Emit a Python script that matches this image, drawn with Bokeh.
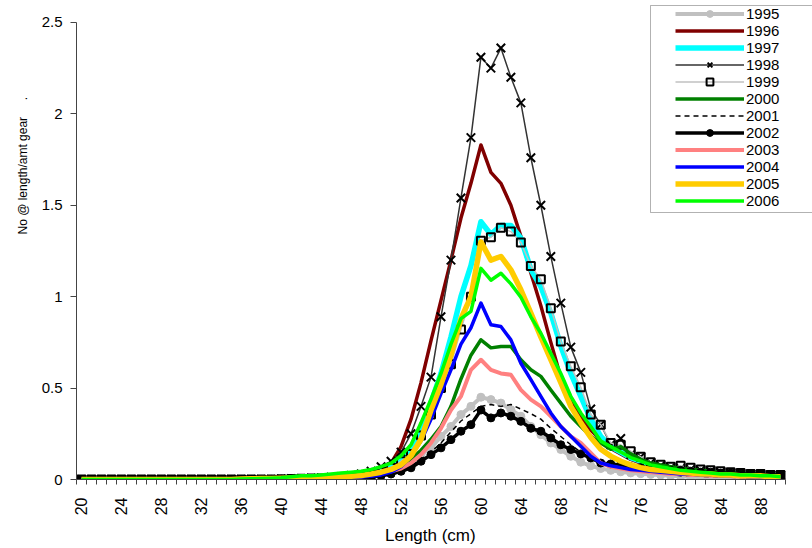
import math
from bokeh.plotting import figure
from bokeh.models import (Range1d, FixedTicker, CustomJSTickFormatter, Legend,
                          LegendItem, BoxAnnotation, Title)
from bokeh.embed import file_html
from bokeh.resources import INLINE

# ---------------- data ----------------
lengths = list(range(20, 91))
x_tick_labels = [20, 24, 28, 32, 36, 40, 44, 48, 52, 56, 60, 64, 68, 72, 76, 80, 84, 88]
y_ticks = [0, 0.5, 1, 1.5, 2, 2.5]
years = ["1995", "1996", "1997", "1998", "1999", "2000", "2001", "2002",
         "2003", "2004", "2005", "2006"]

y1995 = [0, 0, 0, 0, 0, 0, 0, 0, 0, 0,
         0, 0, 0, 0, 0, 0, 0, 0, 0, 0.002,
         0.003, 0.004, 0.005, 0.006, 0.007, 0.008, 0.010, 0.012, 0.015, 0.020,
         0.028, 0.040, 0.064, 0.090, 0.136, 0.173, 0.236, 0.290, 0.355, 0.400,
         0.450, 0.437, 0.418, 0.382, 0.346, 0.290, 0.245, 0.200, 0.164, 0.127,
         0.095, 0.075, 0.060, 0.050, 0.042, 0.036, 0.032, 0.028, 0.024, 0.020,
         0.018, 0.015, 0.013, 0.011, 0.010, 0.009, 0.008, 0.007, 0.006, 0.005, 0.005]
y1996 = [0, 0, 0, 0, 0, 0, 0, 0, 0, 0,
         0, 0, 0, 0, 0, 0, 0.001, 0.002, 0.002, 0.003,
         0.004, 0.005, 0.006, 0.008, 0.010, 0.013, 0.017, 0.022, 0.030, 0.040,
         0.055, 0.09, 0.18, 0.33, 0.53, 0.76, 0.98, 1.20, 1.43, 1.62,
         1.83, 1.68, 1.62, 1.50, 1.33, 1.13, 0.95, 0.75, 0.56, 0.44,
         0.345, 0.27, 0.218, 0.17, 0.14, 0.11, 0.09, 0.075, 0.065, 0.055,
         0.05, 0.045, 0.04, 0.035, 0.03, 0.03, 0.025, 0.02, 0.02, 0.02, 0.015]
y1997 = [0, 0, 0, 0, 0, 0, 0, 0, 0, 0,
         0, 0, 0, 0, 0, 0, 0.001, 0.002, 0.002, 0.003,
         0.004, 0.005, 0.006, 0.007, 0.009, 0.011, 0.014, 0.018, 0.024, 0.032,
         0.045, 0.07, 0.11, 0.17, 0.28, 0.42, 0.58, 0.78, 1.00, 1.17,
         1.41, 1.34, 1.39, 1.39, 1.32, 1.15, 1.055, 0.91, 0.73, 0.58,
         0.455, 0.33, 0.236, 0.18, 0.15, 0.12, 0.10, 0.08, 0.07, 0.06,
         0.06, 0.05, 0.045, 0.04, 0.035, 0.03, 0.03, 0.025, 0.02, 0.02, 0.02]
y1998 = [0, 0, 0, 0, 0, 0, 0, 0, 0, 0,
         0, 0, 0, 0, 0, 0, 0, 0, 0, 0,
         0.003, 0.004, 0.005, 0.007, 0.009, 0.012, 0.016, 0.022, 0.030, 0.045,
         0.07, 0.10, 0.15, 0.25, 0.40, 0.56, 0.89, 1.20, 1.54, 1.87,
         2.31, 2.25, 2.36, 2.20, 2.06, 1.76, 1.50, 1.22, 0.965, 0.724,
         0.586, 0.386, 0.30, 0.19, 0.224, 0.136, 0.124, 0.09, 0.075, 0.065,
         0.06, 0.055, 0.05, 0.045, 0.04, 0.035, 0.035, 0.03, 0.03, 0.025, 0.025]
y1999 = [0, 0, 0, 0, 0, 0, 0, 0, 0, 0,
         0, 0, 0, 0, 0, 0, 0, 0, 0, 0,
         0.002, 0.003, 0.004, 0.005, 0.006, 0.008, 0.010, 0.014, 0.020, 0.030,
         0.045, 0.065, 0.10, 0.14, 0.24, 0.355, 0.50, 0.63, 0.82, 1.00,
         1.306, 1.325, 1.377, 1.356, 1.297, 1.168, 1.095, 0.937, 0.755, 0.619,
         0.505, 0.355, 0.30, 0.20, 0.19, 0.155, 0.124, 0.094, 0.08, 0.07,
         0.075, 0.064, 0.055, 0.05, 0.045, 0.04, 0.035, 0.03, 0.03, 0.025, 0.025]
y2000 = [0, 0, 0, 0, 0, 0, 0, 0, 0, 0,
         0, 0, 0, 0, 0, 0, 0, 0, 0, 0,
         0.002, 0.003, 0.004, 0.005, 0.006, 0.007, 0.009, 0.012, 0.016, 0.022,
         0.032, 0.05, 0.075, 0.11, 0.16, 0.22, 0.29, 0.40, 0.55, 0.68,
         0.764, 0.72, 0.728, 0.728, 0.655, 0.60, 0.564, 0.49, 0.418, 0.346,
         0.29, 0.237, 0.20, 0.165, 0.18, 0.14, 0.11, 0.09, 0.08, 0.07,
         0.06, 0.055, 0.05, 0.045, 0.04, 0.035, 0.03, 0.03, 0.025, 0.025, 0.02]
y2001 = [0, 0, 0, 0, 0, 0, 0, 0, 0, 0,
         0, 0, 0, 0, 0, 0, 0, 0, 0, 0,
         0.002, 0.003, 0.004, 0.005, 0.006, 0.007, 0.009, 0.011, 0.014, 0.018,
         0.025, 0.035, 0.05, 0.075, 0.11, 0.15, 0.20, 0.26, 0.32, 0.36,
         0.40, 0.41, 0.40, 0.41, 0.385, 0.36, 0.33, 0.28, 0.235, 0.19,
         0.15, 0.12, 0.095, 0.075, 0.06, 0.05, 0.045, 0.04, 0.035, 0.03,
         0.02, 0.02, 0.018, 0.015, 0.013, 0.012, 0.01, 0.01, 0.009, 0.008, 0.008]
y2002 = [0, 0, 0, 0, 0, 0, 0, 0, 0, 0,
         0, 0, 0, 0, 0, 0, 0, 0, 0, 0,
         0.001, 0.002, 0.002, 0.003, 0.004, 0.005, 0.006, 0.008, 0.010, 0.014,
         0.02, 0.03, 0.045, 0.064, 0.10, 0.136, 0.173, 0.218, 0.264, 0.30,
         0.38, 0.337, 0.364, 0.346, 0.318, 0.28, 0.264, 0.227, 0.19, 0.164,
         0.14, 0.118, 0.09, 0.085, 0.08, 0.07, 0.065, 0.06, 0.055, 0.05,
         0.05, 0.045, 0.04, 0.04, 0.035, 0.035, 0.03, 0.03, 0.03, 0.025, 0.025]
y2003 = [0, 0, 0, 0, 0, 0, 0, 0, 0, 0,
         0, 0, 0, 0, 0, 0, 0, 0, 0, 0,
         0.002, 0.003, 0.004, 0.005, 0.006, 0.007, 0.009, 0.012, 0.016, 0.025,
         0.035, 0.045, 0.06, 0.09, 0.136, 0.20, 0.28, 0.38, 0.455, 0.60,
         0.655, 0.60, 0.58, 0.573, 0.49, 0.437, 0.40, 0.346, 0.29, 0.236,
         0.20, 0.146, 0.09, 0.07, 0.06, 0.05, 0.045, 0.04, 0.035, 0.03,
         0.03, 0.025, 0.025, 0.02, 0.02, 0.018, 0.015, 0.015, 0.012, 0.01, 0.01]
y2004 = [0, 0, 0, 0, 0, 0, 0, 0, 0, 0,
         0, 0, 0, 0, 0, 0, 0, 0, 0, 0,
         0.002, 0.003, 0.004, 0.005, 0.006, 0.007, 0.009, 0.011, 0.014, 0.018,
         0.025, 0.04, 0.07, 0.13, 0.21, 0.33, 0.47, 0.60, 0.74, 0.83,
         0.965, 0.846, 0.837, 0.764, 0.636, 0.546, 0.455, 0.364, 0.29, 0.236,
         0.182, 0.127, 0.09, 0.075, 0.065, 0.055, 0.05, 0.045, 0.04, 0.035,
         0.03, 0.03, 0.025, 0.025, 0.02, 0.02, 0.018, 0.015, 0.015, 0.012, 0.01]
y2005 = [0, 0, 0, 0, 0, 0, 0, 0, 0, 0,
         0, 0, 0, 0, 0, 0, 0.003, 0.004, 0.005, 0.006,
         0.007, 0.008, 0.009, 0.010, 0.011, 0.012, 0.015, 0.018, 0.022, 0.030,
         0.04, 0.055, 0.08, 0.13, 0.22, 0.38, 0.52, 0.68, 0.88, 1.00,
         1.30, 1.20, 1.22, 1.147, 1.038, 0.91, 0.78, 0.655, 0.53, 0.40,
         0.31, 0.23, 0.165, 0.128, 0.10, 0.08, 0.065, 0.055, 0.05, 0.045,
         0.04, 0.035, 0.03, 0.03, 0.025, 0.025, 0.02, 0.02, 0.02, 0.015, 0.015]
y2006 = [0, 0, 0, 0, 0, 0, 0, 0, 0, 0,
         0, 0, 0, 0, 0, 0, 0.003, 0.004, 0.005, 0.007,
         0.010, 0.015, 0.020, 0.020, 0.025, 0.030, 0.035, 0.040, 0.045, 0.055,
         0.07, 0.09, 0.13, 0.19, 0.31, 0.44, 0.58, 0.74, 0.88, 0.92,
         1.155, 1.09, 1.128, 1.07, 0.997, 0.89, 0.80, 0.69, 0.58, 0.455,
         0.364, 0.29, 0.21, 0.18, 0.15, 0.12, 0.10, 0.08, 0.07, 0.06,
         0.05, 0.045, 0.04, 0.035, 0.03, 0.03, 0.025, 0.025, 0.02, 0.02, 0.015]

values = [y1995, y1996, y1997, y1998, y1999, y2000, y2001, y2002,
          y2003, y2004, y2005, y2006]

# ---------------- styles ----------------
styles = [
    ("#C0C0C0", 4.0, "solid", "circle", 8, "#C0C0C0", "#C0C0C0", 1.0, 1),
    ("#800000", 3.5, "solid", None, 0, None, None, 0, 0),
    ("#00FFFF", 5.5, "solid", None, 0, None, None, 0, 0),
    ("#333333", 1.5, "solid", "x", 12, "#000000", None, 0, 2),
    ("#C0C0C0", 1.5, "solid", "square", 8, "#000000", "#FFFFFF", 0.0, 2),
    ("#008000", 3.5, "solid", None, 0, None, None, 0, 0),
    ("#000000", 1.5, "5 4", None, 0, None, None, 0, 0),
    ("#000000", 3.5, "solid", "circle", 8, "#000000", "#000000", 1.0, 1),
    ("#FF8080", 4.0, "solid", None, 0, None, None, 0, 0),
    ("#0000FF", 3.5, "solid", None, 0, None, None, 0, 0),
    ("#FFCC00", 5.5, "solid", None, 0, None, None, 0, 0),
    ("#00FF00", 3.5, "solid", None, 0, None, None, 0, 0),
]

FONT = "Liberation Sans"

# frame spans the full canvas width to the right and to the top; the axes are
# limited with bounds so that the visible plot area stays 19.5..90.5 x 0..2.5
PX_X = 709 / 71.0
PX_Y = 458 / 2.5
p = figure(width=812, height=548, output_backend="svg", toolbar_location=None,
           x_range=Range1d(19.5, 90.5 + 27 / PX_X),
           y_range=Range1d(0, 2.5 + 22 / PX_Y),
           min_border_left=76, min_border_right=0, min_border_top=0,
           min_border_bottom=68, title=None)
p.outline_line_color = None
p.xgrid.visible = False
p.ygrid.visible = False
p.background_fill_color = "white"
p.border_fill_color = "white"

items = []
for name, ys, st in zip(years, values, styles):
    color, lw, dash, marker, msize, mline, mfill, malpha, mlw = st
    rs = []
    r = p.line(lengths, ys, line_color=color, line_width=lw, line_dash=dash,
               line_join="round")
    rs.append(r)
    if marker is not None:
        if marker == "x":
            m = p.scatter(lengths, ys, marker="x", size=msize, line_color=mline,
                          line_width=mlw)
        else:
            m = p.scatter(lengths, ys, marker=marker, size=msize, line_color=mline,
                          line_width=mlw, fill_color=mfill, fill_alpha=malpha)
        rs.append(m)
    items.append(LegendItem(label=name, renderers=rs))

# x axis
xa = p.xaxis[0]
xa.bounds = (19.5, 90.5)
xa.ticker = FixedTicker(ticks=x_tick_labels,
                        minor_ticks=[v - 0.5 for v in lengths] + [lengths[-1] + 0.5])
xa.major_tick_out = 0
xa.major_tick_in = 0
xa.minor_tick_out = 5
xa.minor_tick_in = 0
xa.major_label_orientation = math.pi / 2
xa.major_label_standoff = 13
xa.major_label_text_font = FONT
xa.major_label_text_font_size = "16px"
xa.major_label_text_color = "black"
xa.axis_label = "Length (cm)" + "\u00a0" * 6
xa.axis_label_text_font = FONT
xa.axis_label_text_font_size = "17px"
xa.axis_label_text_font_style = "normal"
xa.axis_label_text_color = "black"
xa.axis_label_standoff = 8
xa.axis_line_color = "#444444"
xa.minor_tick_line_color = "#444444"

# y axis
ya = p.yaxis[0]
ya.bounds = (0, 2.5)
ya.ticker = FixedTicker(ticks=y_ticks)
ya.formatter = CustomJSTickFormatter(code="return tick.toString();")
ya.major_tick_out = 6
ya.major_tick_in = 0
ya.minor_tick_out = 0
ya.minor_tick_in = 0
ya.major_label_standoff = 8
ya.major_label_text_font = FONT
ya.major_label_text_font_size = "15px"
ya.major_label_text_color = "black"
ya.axis_line_color = "#444444"
ya.major_tick_line_color = "#444444"

ytitle = Title(text="No @ length/amt gear" + "\u00a0" * 5 + ".", align="left",
               offset=245, standoff=18, text_font=FONT, text_font_size="12px",
               text_font_style="normal", text_color="black")
p.add_layout(ytitle, "left")

# legend frame
p.add_layout(BoxAnnotation(left=650, right=840, top=5, bottom=212,
                           left_units="canvas", right_units="canvas",
                           top_units="canvas", bottom_units="canvas",
                           fill_color="white", fill_alpha=1.0,
                           line_color="#000000", line_width=1, level="annotation"))

legend = Legend(items=items, location=(599, 270), border_line_color=None,
                background_fill_alpha=0, padding=2, spacing=0, margin=0,
                label_height=17, glyph_height=17, glyph_width=69,
                label_standoff=2, label_text_font=FONT,
                label_text_font_size="15px", label_text_color="black")
p.add_layout(legend)

open("out.html", "w").write(file_html(p, INLINE))
